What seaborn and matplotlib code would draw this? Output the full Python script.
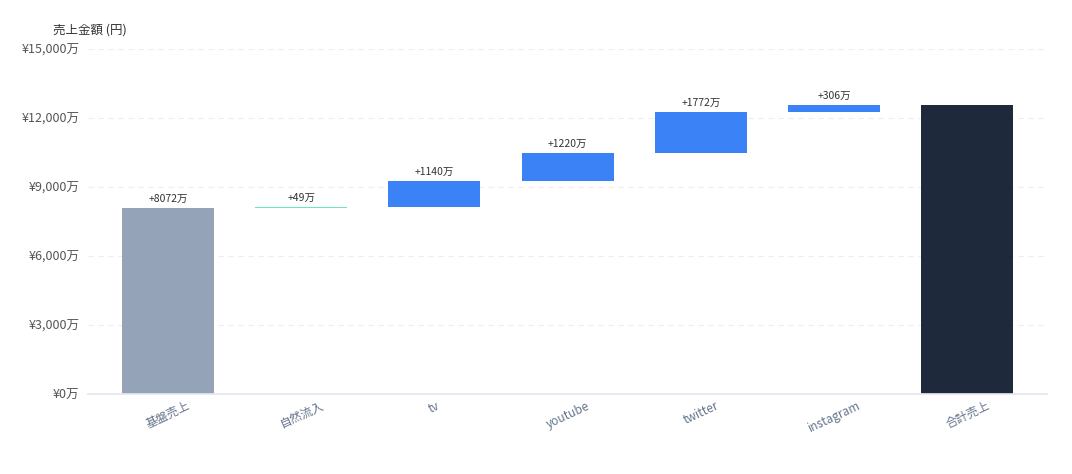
import numpy as np
import pandas as pd
import matplotlib
matplotlib.use("Agg")
import matplotlib.pyplot as plt
import seaborn as sns

categories = ["基盤売上", "自然流入", "tv", "youtube", "twitter", "instagram", "合計売上"]
increments = [8072, 49, 1140, 1220, 1772, 306]
bar_colors = ["#94a3b8", "#6ee7b7", "#3b82f6", "#3b82f6", "#3b82f6", "#3b82f6", "#1e293b"]

total = sum(increments)
heights = increments + [total]
bottoms = [0] + list(np.cumsum(increments)[:-1]) + [0]

sns.set_theme(style="white")
plt.rcParams['font.family'] = ['Noto Sans CJK JP', 'DejaVu Sans']

fig = plt.figure(figsize=(10.72, 4.74), dpi=100)
ax = fig.add_axes([0.082, 0.169, 0.895, 0.728])

df = pd.DataFrame({"cat": categories, "h": heights})
sns.barplot(data=df, x="cat", y="h", bottom=np.array(bottoms), color="#3b82f6",
            saturation=1, width=0.69, ax=ax, linewidth=0)
for p, c in zip(ax.patches, bar_colors):
    p.set_facecolor(c)

for i, v in enumerate(increments):
    ax.text(i, bottoms[i] + v + 180, f"+{v}万", ha="center", va="bottom", fontsize=7.5, color="#333333")

ax.set_ylim(0, 15000)
ax.set_xlim(-0.6, 6.6)
ax.set_yticks(range(0, 15001, 3000))
ax.set_yticklabels([f"¥{t:,}万" for t in range(0, 15001, 3000)], fontsize=9, color="#555555")
ax.yaxis.grid(True, linestyle=(0, (5, 4)), color="#eeeeee", linewidth=0.8)
ax.set_axisbelow(True)
ax.tick_params(axis="y", length=0, pad=6)
ax.tick_params(axis="x", length=0, pad=4)
for lbl in ax.get_xticklabels():
    lbl.set_rotation(25)
    lbl.set_ha("center")
    lbl.set_fontsize(8.5)
    lbl.set_color("#64748b")
ax.set_xlabel("")
ax.set_ylabel("")
for s in ["top", "right", "left"]:
    ax.spines[s].set_visible(False)
ax.spines["bottom"].set_color("#e2e8f0")

fig.text(0.049, 0.93, "売上金額 (円)", fontsize=9, color="#333333")

plt.savefig("out.png", dpi=100)
